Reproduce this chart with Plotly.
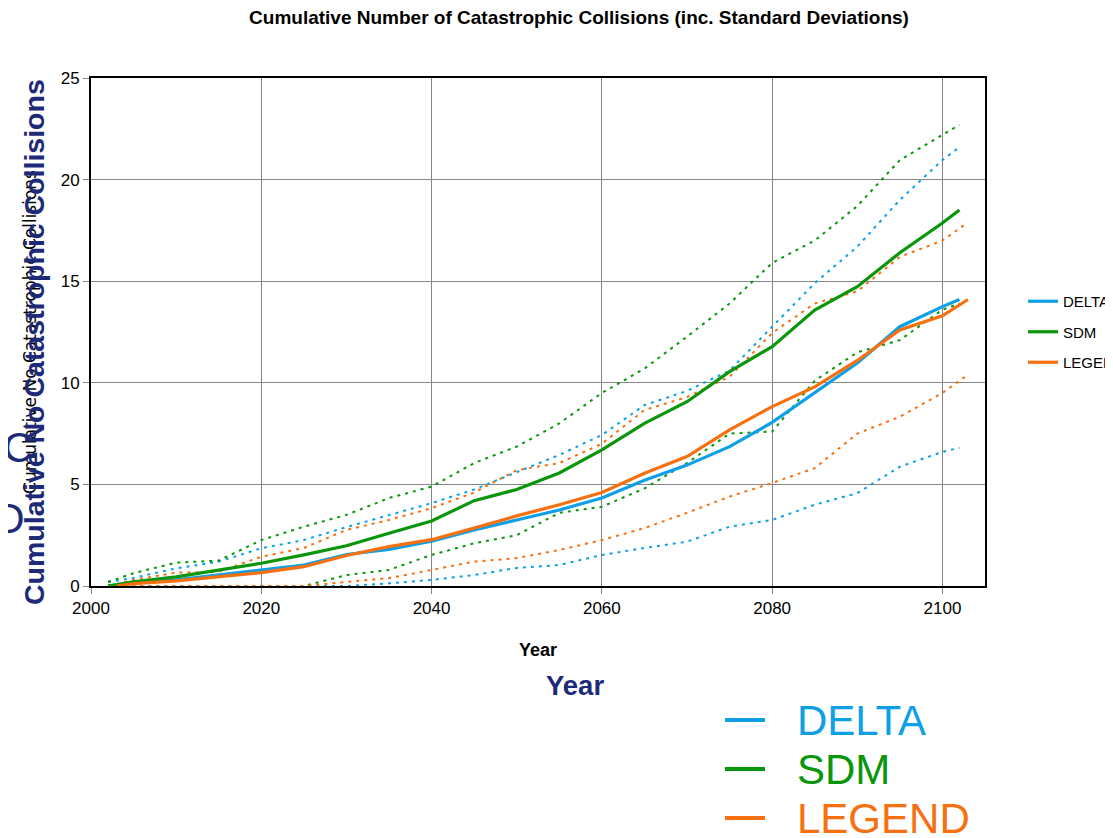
import plotly.graph_objects as go

# ---------------- data ----------------
years = [2002, 2005, 2010, 2015, 2020, 2025, 2030, 2035, 2040, 2045, 2050,
         2055, 2060, 2065, 2070, 2075, 2080, 2085, 2090, 2095, 2100, 2102]
years_legend = [2003, 2005, 2010, 2015, 2020, 2025, 2030, 2035, 2040, 2045, 2050,
                2055, 2060, 2065, 2070, 2075, 2080, 2085, 2090, 2095, 2100, 2103]

delta_mean = [0, 0.15, 0.3, 0.54, 0.79, 1.03, 1.55, 1.8, 2.2, 2.76, 3.25,
              3.74, 4.33, 5.2, 5.95, 6.86, 8.05, 9.5, 10.97, 12.76, 13.75, 14.1]
delta_upper = [0.2, 0.4, 0.87, 1.2, 1.86, 2.26, 2.9, 3.5, 4.08, 4.75, 5.6,
               6.45, 7.43, 8.9, 9.6, 10.6, 12.76, 14.9, 16.7, 19.0, 20.96, 21.6]
delta_lower = [0, 0, 0, 0, 0, 0, 0, 0.13, 0.3, 0.54, 0.89,
               1.03, 1.53, 1.87, 2.18, 2.92, 3.25, 4.0, 4.57, 5.87, 6.6, 6.8]

sdm_mean = [0, 0.2, 0.45, 0.79, 1.12, 1.53, 1.98, 2.6, 3.2, 4.2, 4.75,
            5.56, 6.7, 8.0, 9.07, 10.55, 11.78, 13.58, 14.73, 16.4, 17.86, 18.5]
sdm_upper = [0.2, 0.63, 1.15, 1.25, 2.26, 2.92, 3.5, 4.33, 4.89, 6.05, 6.86,
             8.0, 9.5, 10.7, 12.27, 13.9, 15.9, 17.0, 18.7, 20.96, 22.2, 22.7]
sdm_lower = [0, 0, 0, 0, 0, 0, 0.54, 0.79, 1.53, 2.1, 2.5,
             3.6, 3.9, 4.8, 6.05, 7.5, 7.6, 10.1, 11.5, 12.1, 13.6, 13.9]

legend_mean = [0, 0.12, 0.25, 0.46, 0.66, 0.95, 1.5, 1.94, 2.28, 2.85, 3.45,
               4.0, 4.6, 5.55, 6.37, 7.68, 8.83, 9.8, 11.1, 12.6, 13.3, 14.1]
legend_upper = [0.1, 0.3, 0.66, 0.7, 1.44, 1.87, 2.76, 3.25, 3.83, 4.6, 5.7,
                6.05, 7.0, 8.66, 9.3, 10.3, 12.45, 13.9, 14.5, 16.2, 17.0, 17.9]
legend_lower = [0, 0, 0, 0, 0, 0, 0.2, 0.39, 0.79, 1.2, 1.37,
                1.77, 2.26, 2.85, 3.6, 4.4, 5.07, 5.8, 7.5, 8.33, 9.5, 10.4]

series_names = ["DELTA", "SDM", "LEGEND"]
series_colors = ["#0ea0e6", "#0a960a", "#f7700f"]
series_x = [years, years, years_legend]
series_mean = [delta_mean, sdm_mean, legend_mean]
series_upper = [delta_upper, sdm_upper, legend_upper]
series_lower = [delta_lower, sdm_lower, legend_lower]

title_text = "Cumulative Number of Catastrophic Collisions (inc. Standard Deviations)"
x_title = "Year"
y_title = "Cumulative No Catastrophic Collisions"

# ---------------- figure ----------------
OFF = 8                      # page body margin of the html page
W, H = 1105, 830
ML, MR, MT, MB = 83, 128, 70, 252
PW, PH = W - ML - MR, H - MT - MB
NAVY = "#1c2a78"
FONT = "Liberation Sans, Arial, sans-serif"


def px_x(p):
    return (p - OFF - ML) / PW


def px_y(p):
    return (H - MB - (p - OFF)) / PH


fig = go.Figure()

# dotted standard-deviation envelopes
for name, color, xs, up, lo in zip(series_names, series_colors, series_x,
                                   series_upper, series_lower):
    for ys in (up, lo):
        fig.add_trace(go.Scatter(
            x=xs, y=ys, mode="lines", showlegend=False, legendgroup=name,
            line=dict(color=color, width=2, dash="3px,5px"),
            hoverinfo="skip"))

# mean lines
for name, color, xs, ys in zip(series_names, series_colors, series_x, series_mean):
    fig.add_trace(go.Scatter(
        x=xs, y=ys, mode="lines", name=name, legendgroup=name,
        line=dict(color=color, width=3.2)))

annotations = [
    dict(text="<b>" + y_title + "</b>", textangle=-90, x=px_x(34), y=px_y(342),
         font=dict(size=28.5, color=NAVY, family=FONT)),
    dict(text="<b>" + x_title + "</b>", x=px_x(575), y=px_y(685),
         font=dict(size=27.5, color=NAVY, family=FONT)),
    dict(text="C", x=px_x(18), y=px_y(447), font=dict(size=42, color=NAVY, family=FONT)),
    dict(text="O", x=px_x(8), y=px_y(518), font=dict(size=42, color=NAVY, family=FONT)),
]
shapes = []
for i, (name, color) in enumerate(zip(series_names, series_colors)):
    yc = 720 + i * 49
    shapes.append(dict(type="line", xref="paper", yref="paper",
                       x0=px_x(725), x1=px_x(765), y0=px_y(yc), y1=px_y(yc),
                       line=dict(color=color, width=4)))
    annotations.append(dict(text=name, x=px_x(795), y=px_y(yc), xanchor="left",
                            font=dict(size=42, color=color, family=FONT)))
for a in annotations:
    a.update(xref="paper", yref="paper", showarrow=False)
    a.setdefault("xanchor", "center")
    a.setdefault("yanchor", "middle")

fig.update_layout(
    width=W, height=H,
    margin=dict(l=ML, r=MR, t=MT, b=MB, autoexpand=False),
    paper_bgcolor="white", plot_bgcolor="white",
    font=dict(family=FONT, color="black"),
    title=dict(text="<b>" + title_text + "</b>", x=(579 - OFF) / W, xanchor="center",
               y=1 - (17 - OFF) / H, yanchor="middle", font=dict(size=19, color="black")),
    xaxis=dict(range=[2000, 2105], tick0=2000, dtick=20, showgrid=True,
               gridcolor="#858585", gridwidth=1, showline=True, linecolor="black",
               linewidth=2, mirror=True, ticks="outside", ticklen=6,
               tickcolor="#858585", tickfont=dict(size=17), zeroline=False,
               title=dict(text="<b>" + x_title + "</b>", font=dict(size=18),
                          standoff=26)),
    yaxis=dict(range=[0, 25], tick0=0, dtick=5, showgrid=True,
               gridcolor="#858585", gridwidth=1, showline=True, linecolor="black",
               linewidth=2, mirror=True, ticks="outside", ticklen=6,
               tickcolor="#858585", tickfont=dict(size=17), zeroline=False,
               title=dict(text=y_title,
                          font=dict(size=17, family="DejaVu Sans, sans-serif"),
                          standoff=20)),
    legend=dict(x=px_x(1023), y=px_y(332), xanchor="left", yanchor="middle",
                font=dict(size=15), traceorder="grouped", tracegroupgap=8,
                bgcolor="rgba(0,0,0,0)"),
    annotations=annotations,
    shapes=shapes,
)

fig.write_html("out.html")
